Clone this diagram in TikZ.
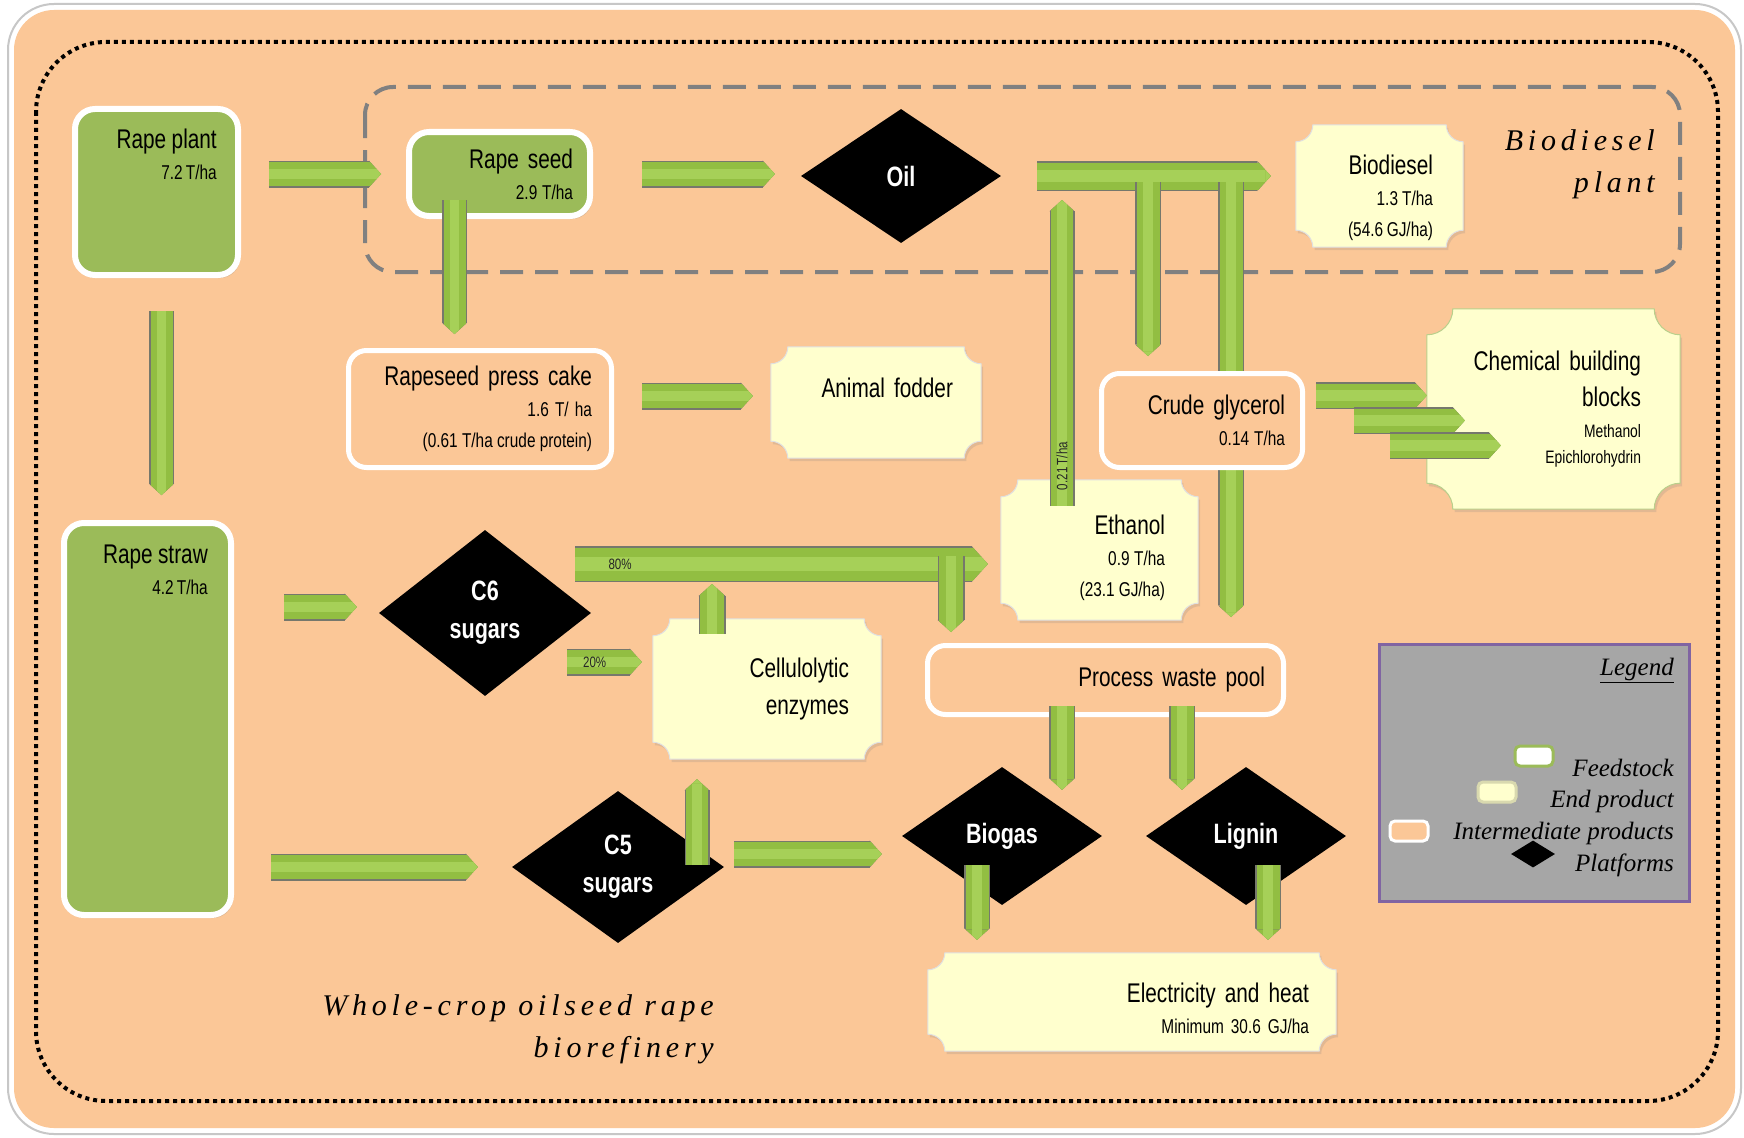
\documentclass[tikz,border=0pt]{standalone}
\usepackage{fontspec}
\setmainfont{Liberation Sans}[FakeStretch=0.77]
\newfontfamily\handfont{Liberation Serif}[LetterSpace=16]
\newfontfamily\notefont{Liberation Serif}
\usepackage{xcolor}
\usepackage{tikz}
\usetikzlibrary{arrows.meta,positioning,shapes.geometric,shadows}
\pgfdeclarelayer{background}
\pgfsetlayers{background,main}

\definecolor{peach}{RGB}{251,199,151}
\definecolor{leafgreen}{RGB}{155,187,89}
\definecolor{cream}{RGB}{255,255,206}
\definecolor{arrowedge}{RGB}{118,120,108}
\definecolor{arrowbody}{RGB}{146,190,66}
\definecolor{arrowshine}{RGB}{166,208,88}
\definecolor{legendgray}{RGB}{166,166,166}
\definecolor{legendline}{RGB}{128,100,162}

\newcommand\bigtxt{\fontsize{27}{31}\selectfont\spaceskip=0.2em plus 0.05em\relax}
\newcommand\smalltxt{\fontsize{20}{24}\selectfont\spaceskip=0.16em plus 0.05em\relax}
\newcommand\tinytxt{\fontsize{15}{18}\selectfont\spaceskip=0.16em\relax}
\newcommand\platfont{\bfseries\fontsize{28}{38}\selectfont}

\tikzset{
  flowarrow/.style={line width=#1, draw=arrowbody,
    -{Triangle[length=0pt .45, width=0pt 1, line width=0pt]},
    preaction={draw=arrowedge, line width=#1+3pt},
    postaction={draw=arrowshine, line width=0.45*#1}},
  flowarrow/.default=24pt,
  arrowtag/.style={font=\tinytxt, text=black!85, inner sep=1pt},
  feedbox/.style={rounded corners=20pt, fill=leafgreen, draw=white,
    line width=6pt, align=right, font=\bigtxt, inner ysep=0pt,
    drop shadow={shadow xshift=2pt, shadow yshift=-3pt, opacity=0.25}},
  feedlabel/.style={anchor=north east, align=right, inner sep=0pt,
    font=\bigtxt, draw=none, fill=none},
  interbox/.style={rounded corners=18pt, fill=peach, draw=white,
    line width=5pt, align=right, font=\bigtxt, inner ysep=0pt},
  endbox/.style={align=right, font=\bigtxt, inner ysep=0pt},
  endshape/.style={fill=cream, draw=black!12, line width=1pt,
    drop shadow={shadow xshift=2pt, shadow yshift=-3pt, opacity=0.2}},
  platform/.style={diamond, fill=black, text=white, font=\platfont,
    align=center, inner sep=0pt},
  cropline/.style={draw=black, line width=4pt, dash pattern=on 4pt off 4pt,
    rounded corners=70pt},
  plantline/.style={draw=black!50, line width=4pt,
    dash pattern=on 23pt off 12pt, rounded corners=28pt},
  handtxt/.style={font=\handfont\itshape\fontsize{30}{42}\selectfont,
    align=right, inner sep=0pt},
  legendbox/.style={fill=legendgray, draw=legendline, line width=3pt},
  legendtxt/.style={font=\notefont\itshape\fontsize{25}{30}\selectfont,
    inner sep=0pt, anchor=east},
  swatch/.style={rounded corners=5pt, line width=3pt, minimum width=38pt,
    minimum height=20pt, inner sep=0pt}
}

% concave-corner plate behind an end product node
\newcommand\prodplate[3][]{%
  \path[endshape,#1] ([xshift=#2]#3.north west) -- ([xshift=-#2]#3.north east)
    arc[start angle=180, end angle=270, radius=#2] -- ([yshift=#2]#3.south east)
    arc[start angle=90, end angle=180, radius=#2] -- ([xshift=#2]#3.south west)
    arc[start angle=0, end angle=90, radius=#2] -- ([yshift=-#2]#3.north west)
    arc[start angle=270, end angle=360, radius=#2] -- cycle;}

\begin{document}
\begin{tikzpicture}[x=1pt, y=1pt]
  \useasboundingbox (0,0) rectangle (1744,-1137);

  \begin{pgfonlayer}{background}
    \fill[white] (0,0) rectangle (1744,-1137);
    \draw[black!22, line width=2pt, fill=white, rounded corners=46pt]
      (8,-4) rectangle (1741,-1134);
    \fill[peach, rounded corners=40pt] (14,-10) rectangle (1735,-1128);
    \draw[cropline] (36,-42) rectangle (1718,-1101);
    \draw[plantline] (365,-87) rectangle (1680,-272);
  \end{pgfonlayer}

  % feedstock
  \node[feedbox, minimum width=163pt, minimum height=166pt,
    label={[feedlabel, xshift=-24pt, yshift=-23pt]north east:{Rape plant\\{\smalltxt 7.2 T/ha}}}]
    (rplant) at (156.5,-192) {};
  \node[feedbox, text width=147pt, inner xsep=17pt, minimum height=84pt]
    (rseed) at (499.5,-174) {Rape seed\\{\smalltxt 2.9 T/ha}};
  \node[feedbox, minimum width=167pt, minimum height=392pt,
    label={[feedlabel, xshift=-26pt, yshift=-25pt]north east:{Rape straw\\{\smalltxt 4.2 T/ha}}}]
    (rstraw) at (147.5,-719) {};

  % platforms
  \node[platform, minimum width=200pt, minimum height=134pt, aspect=1.5]
    (oil) at (901,-176) {Oil};
  \node[platform, minimum width=212pt, minimum height=166pt, aspect=1.28]
    (c6) at (485,-613) {C6\\sugars};
  \node[platform, minimum width=212pt, minimum height=152pt, aspect=1.4]
    (c5) at (618,-867) {C5\\sugars};
  \node[platform, minimum width=200pt, minimum height=138pt, aspect=1.45]
    (biogas) at (1002,-836) {Biogas};
  \node[platform, minimum width=200pt, minimum height=138pt, aspect=1.45]
    (lignin) at (1246,-836) {Lignin};

  % intermediate products
  \node[interbox, text width=224pt, inner xsep=19.5pt, minimum height=117pt]
    (cake) at (480,-409)
    {Rapeseed press cake\\{\smalltxt 1.6 T/ ha}\\{\smalltxt (0.61 T/ha crude protein)}};
  \node[interbox, text width=319pt, inner xsep=18.5pt, minimum height=69pt]
    (waste) at (1105.5,-680) {Process waste pool};

  % end products
  \node[endbox, text width=107pt, inner xsep=30pt, minimum height=122pt]
    (bdiesel) at (1379.5,-186)
    {\rule{0pt}{44pt}Biodiesel\\{\smalltxt 1.3 T/ha}\\{\smalltxt (54.6 GJ/ha)}};
  \node[endbox, text width=154pt, inner xsep=28pt, minimum height=111pt,
    text depth=29pt] (fodder) at (876,-402.5) {Animal fodder};
  \node[endbox, text width=175pt, inner xsep=39pt, minimum height=200pt]
    (chem) at (1553.5,-409)
    {Chemical building\\[5pt]blocks\\{\fontsize{18}{20}\selectfont Methanol}\\[-5pt]{\fontsize{18}{20}\selectfont Epichlorohydrin}};
  \node[endbox, text width=131pt, inner xsep=33pt, minimum height=140pt]
    (ethanol) at (1099.5,-550)
    {\rule{0pt}{36pt}Ethanol\\{\smalltxt 0.9 T/ha}\\{\smalltxt (23.1 GJ/ha)}};
  \node[endbox, text width=164pt, inner xsep=32pt, minimum height=140pt]
    (enzymes) at (767,-689) {Cellulolytic\\[6pt]enzymes};
  \node[endbox, text width=354pt, inner xsep=27pt, minimum height=98pt]
    (elec) at (1132,-1002)
    {\rule{0pt}{32pt}Electricity and heat\\{\smalltxt Minimum 30.6 GJ/ha}};

  \begin{pgfonlayer}{background}
    \foreach \n in {bdiesel,fodder,ethanol,enzymes,elec}
      \prodplate{17pt}{\n};
    \prodplate[draw=leafgreen!70]{26pt}{chem};
  \end{pgfonlayer}

  % titles
  \node[handtxt, anchor=east] (plantname) at (1655,-164.5) {Biodiesel\\plant};
  \node[handtxt, anchor=east] (cropname) at (714,-1029.5)
    {Whole-crop oilseed rape\\biorefinery};

  % legend
  \node[legendbox, minimum width=310pt, minimum height=257pt]
    (legend) at (1534.5,-773) {};
  \node[legendtxt] (legtitle) at (1674,-670) {\underline{Legend}};
  \node[swatch, fill=white, draw=leafgreen] (swfeed) at (1534,-756) {};
  \node[swatch, fill=cream, draw=cream!85!black] (swend) at (1497,-792) {};
  \node[swatch, fill=peach, draw=white] (swinter) at (1409,-831) {};
  \node[diamond, fill=black, minimum width=44pt, minimum height=27pt,
    aspect=1.6, inner sep=0pt] (swplat) at (1533,-854) {};
  \node[legendtxt] (legfeed) at (1674,-768) {Feedstock};
  \node[legendtxt] (legend2) at (1674,-801) {End product};
  \node[legendtxt] (leginter) at (1674,-833) {Intermediate products};
  \node[legendtxt] (legplat) at (1674,-865) {Platforms};

  % branch points
  \coordinate (oilbar) at ([xshift=36pt]oil.east);
  \coordinate (glybranch) at (1148,-182);
  \coordinate (wastebranch) at (1231,-182);
  \coordinate (recycle) at (1062,-200);
  \coordinate (seeddrop) at ([xshift=-45pt, yshift=19pt]rseed.south);
  \coordinate (cakeout) at ([xshift=28pt, yshift=13pt]cake.east);
  \coordinate (stalk) at ([xshift=5pt, yshift=-33pt]rplant.south);
  \coordinate (splitbar) at (575,-564);
  \coordinate (wastedrop) at (951,-556);
  \coordinate (enzup) at ([xshift=-55pt, yshift=-15pt]enzymes.north);
  \coordinate (c6low) at (567,-662);
  \coordinate (c5up) at (697,-865);
  \coordinate (c5out) at ([xshift=10pt, yshift=13pt]c5.east);
  \coordinate (biogasin) at ([xshift=-43.5pt, yshift=11pt]waste.south);
  \coordinate (ligninin) at ([xshift=76.5pt, yshift=11pt]waste.south);
  \coordinate (biogasout) at ([xshift=-25pt, yshift=-29pt]biogas.center);
  \coordinate (ligninout) at ([xshift=22pt, yshift=-29pt]lignin.center);

  \draw[flowarrow] ([xshift=28pt]rplant.east |- rseed.west)
    -- ([xshift=-25pt]rseed.west);
  \draw[flowarrow] ([xshift=49pt]rseed.east)
    -- ([xshift=-26pt]oil.west |- rseed.east);
  \draw[flowarrow=27pt] (oilbar) -- ([xshift=-25pt]bdiesel.west |- oilbar);
  \draw[flowarrow=23pt] (wastebranch) -- ([yshift=26pt]waste.north -| wastebranch);
  \draw[flowarrow=22pt] ([yshift=-26pt]ethanol.north -| recycle) -- (recycle)
    node[arrowtag, pos=0.13, sloped] {0.21 T/ha};
  \draw[flowarrow=22pt] (seeddrop) -- ([yshift=14pt]cake.north -| seeddrop);
  \draw[flowarrow] (cakeout) -- ([xshift=-18pt]fodder.west |- cakeout);

  % crude glycerol sits over the waste branch
  \node[interbox, text width=166pt, inner xsep=17.5pt, minimum height=94pt]
    (glycerol) at (1202,-420.5) {Crude glycerol\\{\smalltxt 0.14 T/ha}};
  \draw[flowarrow=23pt] (glybranch) -- ([yshift=15pt]glycerol.north -| glybranch);
  \foreach \dx/\dy in {11/25, 49/0, 85/-25} {
    \coordinate (gout) at ([shift={(\dx pt,\dy pt)}]glycerol.east);
    \draw[flowarrow] (gout) -- ([xshift=\dx pt-11pt]chem.west |- gout);
  }

  \draw[flowarrow=22pt] (stalk) -- ([yshift=25pt]rstraw.north -| stalk);
  \draw[flowarrow] ([xshift=50pt, yshift=6pt]rstraw.east |- c6.west)
    -- ([xshift=-22pt, yshift=6pt]c6.west);
  \draw[flowarrow=33pt] (splitbar) -- ([xshift=-13pt]ethanol.west |- splitbar)
    node[arrowtag, pos=0, anchor=west, xshift=16pt] {80\%};
  \draw[flowarrow=24pt] (wastedrop) -- ([yshift=11pt]waste.north -| wastedrop);
  \draw[flowarrow=24pt] (enzup) -- ([yshift=-20pt]splitbar -| enzup);
  \draw[flowarrow] (c6low) -- ([xshift=-11pt]enzymes.west |- c6low)
    node[arrowtag, pos=0.37] {20\%};
  \draw[flowarrow] ([xshift=37pt]rstraw.east |- c5.west)
    -- ([xshift=-34pt]c5.west);
  \draw[flowarrow=22pt] (c5up) -- ([yshift=-20pt]enzymes.south -| c5up);
  \draw[flowarrow] (c5out) -- ([xshift=-20pt]biogas.west |- c5out);
  \draw[flowarrow=23pt] (biogasin) -- ([yshift=-23pt]biogas.north -| biogasin);
  \draw[flowarrow=23pt] (ligninin) -- ([yshift=-23pt]lignin.north -| ligninin);
  \draw[flowarrow=23pt] (biogasout) -- ([yshift=13pt]elec.north -| biogasout);
  \draw[flowarrow=23pt] (ligninout) -- ([yshift=13pt]elec.north -| ligninout);
\end{tikzpicture}
\end{document}
